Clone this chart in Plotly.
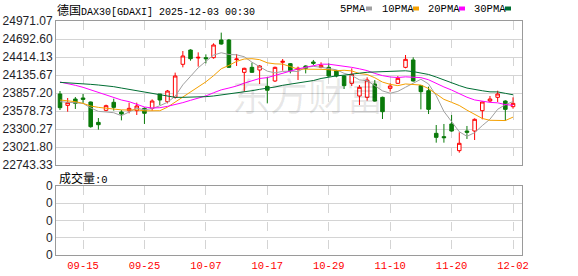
import plotly.graph_objects as go

# ---------------- data ----------------
dates = ["09-10", "09-11", "09-12", "09-15", "09-16", "09-17", "09-18", "09-19", "09-22", "09-23",
         "09-24", "09-25", "09-26", "09-29", "09-30", "10-01", "10-02", "10-03", "10-06", "10-07",
         "10-08", "10-09", "10-10", "10-13", "10-14", "10-15", "10-16", "10-17", "10-20", "10-21",
         "10-22", "10-23", "10-24", "10-27", "10-28", "10-29", "10-30", "10-31", "11-03", "11-04",
         "11-05", "11-06", "11-07", "11-10", "11-11", "11-12", "11-13", "11-14", "11-17", "11-18",
         "11-19", "11-20", "11-21", "11-24", "11-25", "11-26", "11-27", "11-28", "12-01", "12-02"]

opens = [23842, 23666, 23764, 23780, 23718, 23403, 23589, 23713, 23563, 23584,
         23584, 23620, 23620, 23842, 23723, 23790, 24301, 24522, 24399, 24404,
         24404, 24677, 24677, 24373, 24177, 24254, 24213, 23960, 24043, 24332,
         24311, 24223, 24275, 24337, 24254, 24254, 24198, 24120, 24007, 23811,
         23790, 23996, 23790, 23929, 24007, 24254, 24368, 23971, 23893, 23233,
         23182, 23378, 22965, 23269, 23269, 23584, 23733, 23790, 23733, 23646]
highs = [23888, 23780, 23795, 23842, 23725, 23470, 23677, 23769, 23594, 23708,
         23708, 23636, 23759, 23842, 23904, 24172, 24507, 24533, 24486, 24455,
         24626, 24791, 24693, 24461, 24249, 24326, 24290, 24104, 24265, 24383,
         24321, 24265, 24285, 24368, 24332, 24316, 24213, 24130, 24239, 23981,
         24100, 24058, 23801, 24007, 24120, 24445, 24409, 23981, 23955, 23362,
         23378, 23517, 23249, 23347, 23465, 23728, 23811, 23893, 23744, 23790]
lows = [23594, 23568, 23610, 23697, 23321, 23290, 23574, 23584, 23434, 23543,
        23517, 23378, 23584, 23672, 23697, 23770, 24254, 24357, 24265, 24316,
        24388, 24605, 24244, 24275, 23878, 24170, 23996, 23697, 24027, 24203,
        24161, 24058, 24161, 24290, 24239, 24110, 24100, 23919, 23966, 23671,
        23739, 23723, 23455, 23878, 23996, 24239, 24033, 23604, 23532, 23089,
        23089, 23259, 22934, 23146, 23130, 23450, 23718, 23718, 23429, 23615]
closes = [23630, 23708, 23697, 23759, 23336, 23367, 23661, 23635, 23532, 23620,
          23656, 23543, 23733, 23749, 23888, 24120, 24430, 24388, 24409, 24388,
          24600, 24615, 24254, 24383, 24239, 24177, 24275, 23900, 24254, 24347,
          24203, 24239, 24239, 24316, 24285, 24120, 24120, 23971, 24146, 23945,
          24058, 23733, 23568, 23965, 24084, 24378, 24043, 23878, 23604, 23171,
          23166, 23269, 23079, 23249, 23450, 23718, 23764, 23842, 23604, 23697]

ma5 = [23723, 23713, 23702, 23697, 23626, 23573, 23564, 23552, 23506, 23563,
       23621, 23597, 23617, 23660, 23714, 23807, 23984, 24115, 24247, 24347,
       24443, 24480, 24453, 24448, 24418, 24334, 24266, 24195, 24169, 24191,
       24196, 24189, 24256, 24269, 24256, 24240, 24216, 24162, 24128, 24060,
       24048, 23971, 23890, 23854, 23882, 23946, 24008, 24070, 23997, 23815,
       23572, 23418, 23258, 23187, 23243, 23353, 23452, 23605, 23676, 23725]
ma10 = [23749, 23739, 23723, 23697, 23656, 23635, 23620, 23604, 23596, 23594,
        23597, 23581, 23584, 23583, 23638, 23714, 23791, 23866, 23954, 24030,
        24125, 24232, 24284, 24347, 24383, 24388, 24373, 24324, 24308, 24304,
        24265, 24227, 24226, 24219, 24223, 24218, 24202, 24209, 24199, 24158,
        24144, 24093, 24026, 23991, 23971, 23997, 23989, 23980, 23926, 23848,
        23759, 23713, 23664, 23592, 23529, 23463, 23435, 23431, 23431, 23484]
ma20 = [24027, 24007, 23976, 23945, 23904, 23862, 23821, 23785, 23749, 23723,
        23687, 23641, 23625, 23630, 23651, 23677, 23708, 23744, 23780, 23812,
        23861, 23906, 23934, 23965, 24010, 24051, 24082, 24095, 24131, 24167,
        24195, 24230, 24255, 24283, 24303, 24303, 24288, 24267, 24254, 24231,
        24204, 24160, 24126, 24105, 24097, 24107, 24096, 24095, 24062, 24003,
        23951, 23903, 23845, 23792, 23750, 23730, 23712, 23705, 23678, 23666]
ma30 = [24022, 24017, 24007, 23996, 23991, 23981, 23971, 23955, 23934, 23914,
        23893, 23873, 23852, 23826, 23806, 23790, 23790, 23790, 23795, 23801,
        23811, 23826, 23842, 23857, 23878, 23893, 23914, 23929, 23950, 23976,
        23996, 24013, 24031, 24050, 24082, 24107, 24122, 24133, 24154, 24164,
        24178, 24184, 24179, 24186, 24192, 24201, 24188, 24171, 24144, 24104,
        24056, 24011, 23972, 23934, 23908, 23892, 23875, 23874, 23852, 23830]

volume = [0, 0, 0, 0, 0, 0, 0, 0, 0, 0, 0, 0, 0, 0, 0, 0, 0, 0, 0, 0,
          0, 0, 0, 0, 0, 0, 0, 0, 0, 0, 0, 0, 0, 0, 0, 0, 0, 0, 0, 0,
          0, 0, 0, 0, 0, 0, 0, 0, 0, 0, 0, 0, 0, 0, 0, 0, 0, 0, 0, 0]

price_ticks = [22743.33, 23021.80, 23300.27, 23578.73, 23857.20,
               24135.67, 24414.13, 24692.60, 24971.07]
volume_ticks = [0, 1, 2, 3, 4]
volume_tick_labels = ["0", "0", "0", "0", "0"]
x_tick_labels = ["09-15", "09-25", "10-07", "10-17", "10-29", "11-10", "11-20", "12-02"]

ma_names = ["5PMA", "10PMA", "20PMA", "30PMA"]
ma_colors = ["#A0A0A0", "#F5A000", "#FF00FF", "#006E33"]

title_cn = "德国"
title_rest = "DAX30[GDAXI] 2025-12-03 00:30"
volume_label = "成交量:0"
watermark = "东方财富"

# ---------------- figure ----------------
W, H = 578, 276
idx = list(range(len(dates)))
tickvals = [dates.index(d) for d in x_tick_labels]

def px(x):
    return x / W

def py(y):
    return 1 - y / H

fig = go.Figure()

fig.add_trace(go.Candlestick(
    x=idx, open=opens, high=highs, low=lows, close=closes,
    increasing=dict(line=dict(color="#FF0000", width=1), fillcolor="#FFFFFF"),
    decreasing=dict(line=dict(color="#0A7A0A", width=1), fillcolor="#0A7A0A"),
    whiskerwidth=0, hoverinfo="skip", showlegend=False,
    xaxis="x", yaxis="y"))

for name, vals, col in zip(ma_names, [ma5, ma10, ma20, ma30], ma_colors):
    fig.add_trace(go.Scatter(x=idx, y=vals, mode="lines", name=name,
                             line=dict(color=col, width=1), hoverinfo="skip",
                             showlegend=False, xaxis="x", yaxis="y"))

fig.add_trace(go.Bar(x=idx, y=volume, marker_color="#0A7A0A", showlegend=False,
                     hoverinfo="skip", xaxis="x2", yaxis="y2"))

xr = [-0.52, 60.17]
xdom = [px(56), px(522)]
frame = "#9A9A9A"
grid = "#D4D4D4"

fig.update_layout(
    template="none",
    width=W, height=H,
    margin=dict(l=0, r=0, t=0, b=0),
    paper_bgcolor="white", plot_bgcolor="white",
    boxgap=0.34,
    xaxis=dict(domain=xdom, range=xr, tickvals=tickvals, showticklabels=False,
               showgrid=True, gridcolor=grid, griddash="dash", gridwidth=1,
               showline=True, mirror=True, linecolor=frame, linewidth=1,
               ticks="", zeroline=False, rangeslider=dict(visible=False),
               anchor="y", fixedrange=True),
    yaxis=dict(domain=[py(165), py(21)], range=[price_ticks[0], price_ticks[-1]],
               tickvals=price_ticks, ticktext=[f"{v:.2f}" for v in price_ticks],
               showgrid=True, gridcolor=grid, gridwidth=1,
               showline=True, mirror=True, linecolor=frame, linewidth=1,
               ticks="", zeroline=False, anchor="x",
               tickfont=dict(family="Liberation Sans, Arial", size=12, color="#1E1E28")),
    xaxis2=dict(domain=xdom, range=xr, tickvals=tickvals, ticktext=x_tick_labels,
                showgrid=True, gridcolor=grid, griddash="dash", gridwidth=1,
                showline=True, mirror=True, linecolor=frame, linewidth=1,
                ticks="", zeroline=False, anchor="y2",
                tickfont=dict(family="Liberation Mono, monospace", size=10.5, color="#FF0000")),
    yaxis2=dict(domain=[py(255), py(186)], range=[volume_ticks[0], volume_ticks[-1]],
                tickvals=volume_ticks, ticktext=volume_tick_labels,
                showgrid=True, gridcolor=grid, gridwidth=1,
                showline=True, mirror=True, linecolor=frame, linewidth=1,
                ticks="", zeroline=False, anchor="x2",
                tickfont=dict(family="Liberation Sans, Arial", size=12, color="#1E1E28")),
)

ann = []
# watermark
ann.append(dict(x=px(308), y=py(94), xref="paper", yref="paper", text=watermark,
                showarrow=False, font=dict(family="Noto Sans CJK SC", size=38, color="rgba(0,0,0,0.09)"),
                xanchor="center", yanchor="middle"))
# title
ann.append(dict(x=px(55), y=py(9), xref="paper", yref="paper",
                text=title_cn + '<span style="font-family:Liberation Mono;font-size:10px">' + title_rest + '</span>',
                showarrow=False, font=dict(family="Noto Sans CJK SC", size=12, color="#000000"),
                xanchor="left", yanchor="middle"))
# legend texts + swatches
leg_x = [338, 380, 426, 472]
sw_x = [366, 413, 459, 505]
shapes = []
for name, col, lx, sx in zip(ma_names, ma_colors, leg_x, sw_x):
    ann.append(dict(x=px(lx), y=py(9), xref="paper", yref="paper", text=name,
                    showarrow=False, font=dict(family="Liberation Mono", size=10.5, color="#000000"),
                    xanchor="left", yanchor="middle"))
    shapes.append(dict(type="rect", xref="paper", yref="paper",
                       x0=px(sx), x1=px(sx + 6), y0=py(10.5), y1=py(6.5),
                       fillcolor=col, line=dict(width=0)))
# volume label
ann.append(dict(x=px(57), y=py(177), xref="paper", yref="paper",
                text='成交量<span style="font-family:Liberation Mono;font-size:10.5px">:0</span>',
                showarrow=False, font=dict(family="Noto Sans CJK SC", size=12, color="#000000"),
                xanchor="left", yanchor="middle"))

fig.update_layout(annotations=ann, shapes=shapes)

fig.write_html("out.html")
